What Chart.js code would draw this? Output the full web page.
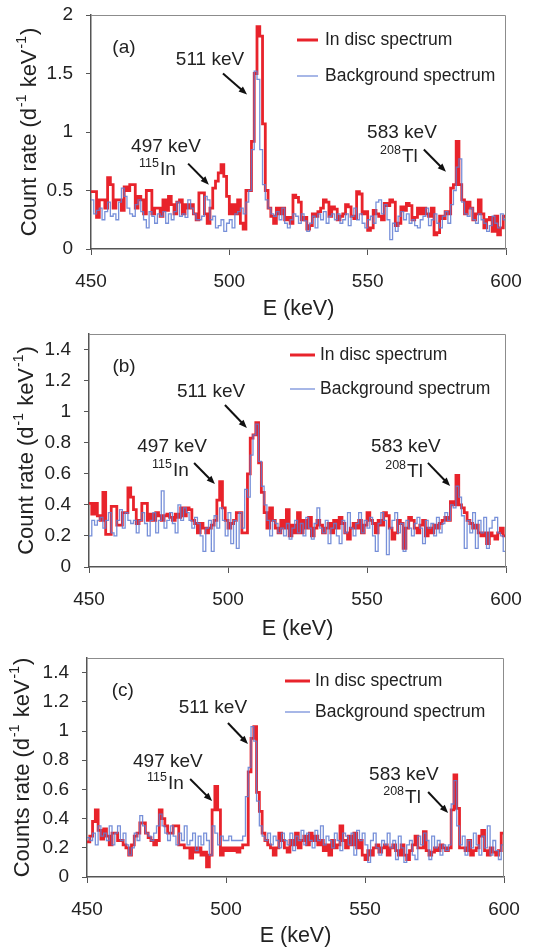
<!DOCTYPE html>
<html>
<head>
<meta charset="utf-8">
<script src="https://cdn.jsdelivr.net/npm/chart.js@4/dist/chart.umd.min.js"></script>
<style>
  body { margin: 0; background: #fff; width: 541px; height: 950px; overflow: hidden; }
  .panel { position: absolute; left: 0; width: 541px; }
</style>
</head>
<body>
<div class="panel" style="top:0;height:320px"><canvas id="chartA"></canvas></div>
<div class="panel" style="top:320px;height:320px"><canvas id="chartB"></canvas></div>
<div class="panel" style="top:640px;height:310px"><canvas id="chartC"></canvas></div>
<script>
// spectra: 1 keV bins starting at 450 keV, count rate (d^-1 keV^-1)
const binStart = 450;
const binWidth = 1;

const inDiscA = [
  0.49, 0.49, 0.27, 0.42, 0.42, 0.35, 0.61, 0.55, 0.35, 0.42,
  0.42, 0.33, 0.53, 0.50, 0.55, 0.55, 0.35, 0.45, 0.42, 0.30,
  0.50, 0.50, 0.30, 0.35, 0.35, 0.28, 0.42, 0.33, 0.45, 0.38,
  0.30, 0.40, 0.42, 0.30, 0.38, 0.35, 0.38, 0.30, 0.25, 0.48,
  0.48, 0.30, 0.22, 0.35, 0.52, 0.58, 0.65, 0.72, 0.62, 0.45,
  0.30, 0.38, 0.30, 0.42, 0.22, 0.17, 0.50, 0.50, 0.92, 1.50,
  1.90, 1.82, 1.07, 0.50, 0.35, 0.28, 0.22, 0.35, 0.30, 0.35,
  0.25, 0.27, 0.22, 0.46, 0.44, 0.40, 0.25, 0.27, 0.17, 0.20,
  0.30, 0.28, 0.32, 0.35, 0.42, 0.40, 0.28, 0.36, 0.34, 0.25,
  0.28, 0.30, 0.38, 0.36, 0.28, 0.26, 0.49, 0.47, 0.30, 0.32,
  0.16, 0.18, 0.33, 0.30, 0.28, 0.25, 0.39, 0.37, 0.42, 0.40,
  0.20, 0.22, 0.36, 0.33, 0.39, 0.37, 0.25, 0.27, 0.35, 0.30,
  0.35, 0.30, 0.28, 0.35, 0.12, 0.14, 0.28, 0.26, 0.32, 0.30,
  0.52, 0.55, 0.92, 0.55, 0.42, 0.30, 0.40, 0.35, 0.25, 0.30,
  0.42, 0.30, 0.18, 0.25, 0.27, 0.15, 0.28, 0.12, 0.18, 0.28
];
const backgroundA = [
  0.42, 0.30, 0.33, 0.35, 0.25, 0.32, 0.40, 0.28, 0.30, 0.25,
  0.40, 0.52, 0.45, 0.35, 0.30, 0.28, 0.38, 0.42, 0.32, 0.25,
  0.18, 0.32, 0.28, 0.22, 0.30, 0.28, 0.32, 0.22, 0.30, 0.25,
  0.32, 0.40, 0.28, 0.30, 0.27, 0.42, 0.35, 0.30, 0.25, 0.25,
  0.28, 0.45, 0.42, 0.25, 0.28, 0.18, 0.20, 0.25, 0.15, 0.22,
  0.25, 0.18, 0.30, 0.32, 0.35, 0.30, 0.40, 0.50, 0.85, 1.52,
  1.45, 0.85, 0.55, 0.42, 0.35, 0.30, 0.28, 0.32, 0.25, 0.35,
  0.22, 0.18, 0.25, 0.30, 0.28, 0.22, 0.30, 0.24, 0.15, 0.22,
  0.28, 0.18, 0.30, 0.25, 0.32, 0.22, 0.28, 0.30, 0.25, 0.30,
  0.22, 0.25, 0.30, 0.20, 0.28, 0.35, 0.25, 0.30, 0.22, 0.18,
  0.25, 0.28, 0.22, 0.40, 0.42, 0.30, 0.38, 0.25, 0.08, 0.22,
  0.15, 0.28, 0.32, 0.25, 0.30, 0.22, 0.25, 0.20, 0.18, 0.25,
  0.28, 0.35, 0.20, 0.25, 0.30, 0.22, 0.18, 0.28, 0.32, 0.22,
  0.38, 0.50, 0.70, 0.77, 0.40, 0.30, 0.28, 0.35, 0.25, 0.22,
  0.30, 0.25, 0.22, 0.15, 0.20, 0.28, 0.22, 0.18, 0.30, 0.25
];

const inDiscB = [
  0.41, 0.34, 0.41, 0.33, 0.30, 0.48, 0.21, 0.21, 0.39, 0.39,
  0.27, 0.27, 0.35, 0.35, 0.51, 0.45, 0.37, 0.28, 0.30, 0.41,
  0.41, 0.30, 0.34, 0.30, 0.35, 0.33, 0.30, 0.33, 0.34, 0.32,
  0.30, 0.34, 0.32, 0.38, 0.33, 0.38, 0.37, 0.30, 0.28, 0.22,
  0.28, 0.25, 0.22, 0.25, 0.27, 0.30, 0.43, 0.55, 0.38, 0.30,
  0.25, 0.28, 0.30, 0.35, 0.35, 0.22, 0.22, 0.60, 0.83, 0.85,
  0.93, 0.67, 0.48, 0.35, 0.25, 0.38, 0.30, 0.25, 0.22, 0.30,
  0.25, 0.37, 0.20, 0.27, 0.22, 0.35, 0.22, 0.30, 0.25, 0.32,
  0.20, 0.25, 0.30, 0.27, 0.22, 0.25, 0.28, 0.22, 0.30, 0.25,
  0.32, 0.28, 0.22, 0.18, 0.25, 0.28, 0.25, 0.30, 0.22, 0.27,
  0.35, 0.30, 0.28, 0.22, 0.30, 0.27, 0.35, 0.33, 0.25, 0.18,
  0.22, 0.30, 0.28, 0.12, 0.25, 0.32, 0.30, 0.25, 0.22, 0.27,
  0.30, 0.20, 0.25, 0.22, 0.27, 0.25, 0.28, 0.30, 0.32, 0.30,
  0.42, 0.40, 0.59, 0.40, 0.38, 0.35, 0.30, 0.28, 0.25, 0.27,
  0.22, 0.20, 0.22, 0.15, 0.22, 0.20, 0.18, 0.22, 0.25, 0.20
];
const backgroundB = [
  0.20, 0.30, 0.27, 0.30, 0.32, 0.25, 0.30, 0.35, 0.22, 0.20,
  0.30, 0.37, 0.25, 0.35, 0.30, 0.28, 0.30, 0.22, 0.30, 0.35,
  0.28, 0.20, 0.30, 0.35, 0.22, 0.30, 0.49, 0.25, 0.30, 0.35,
  0.28, 0.22, 0.40, 0.30, 0.38, 0.35, 0.30, 0.25, 0.32, 0.28,
  0.20, 0.10, 0.25, 0.30, 0.10, 0.33, 0.25, 0.38, 0.30, 0.20,
  0.35, 0.15, 0.30, 0.12, 0.35, 0.25, 0.50, 0.45, 0.72, 0.85,
  0.92, 0.68, 0.52, 0.40, 0.30, 0.20, 0.30, 0.28, 0.22, 0.25,
  0.20, 0.28, 0.18, 0.25, 0.30, 0.22, 0.28, 0.20, 0.32, 0.25,
  0.18, 0.28, 0.38, 0.25, 0.22, 0.30, 0.15, 0.25, 0.28, 0.20,
  0.15, 0.30, 0.22, 0.35, 0.25, 0.20, 0.28, 0.35, 0.22, 0.30,
  0.25, 0.32, 0.20, 0.10, 0.28, 0.35, 0.30, 0.08, 0.25, 0.30,
  0.35, 0.22, 0.28, 0.10, 0.30, 0.25, 0.20, 0.28, 0.32, 0.25,
  0.15, 0.30, 0.25, 0.28, 0.20, 0.32, 0.22, 0.28, 0.35, 0.30,
  0.40, 0.38, 0.52, 0.45, 0.33, 0.12, 0.30, 0.22, 0.35, 0.12,
  0.30, 0.22, 0.32, 0.12, 0.25, 0.30, 0.32, 0.22, 0.20, 0.10
];

const inDiscC = [
  0.24, 0.28, 0.38, 0.46, 0.32, 0.26, 0.33, 0.28, 0.22, 0.30,
  0.30, 0.25, 0.25, 0.22, 0.20, 0.15, 0.22, 0.28, 0.30, 0.37,
  0.37, 0.30, 0.27, 0.25, 0.22, 0.25, 0.46, 0.40, 0.35, 0.30,
  0.30, 0.35, 0.35, 0.22, 0.22, 0.20, 0.20, 0.13, 0.20, 0.17,
  0.20, 0.15, 0.17, 0.07, 0.15, 0.46, 0.62, 0.46, 0.15, 0.20,
  0.18, 0.20, 0.18, 0.20, 0.17, 0.20, 0.22, 0.22, 0.72, 0.95,
  1.03, 0.58, 0.45, 0.30, 0.25, 0.22, 0.20, 0.15, 0.20, 0.30,
  0.25, 0.20, 0.17, 0.25, 0.22, 0.30, 0.20, 0.25, 0.28, 0.22,
  0.30, 0.25, 0.28, 0.22, 0.25, 0.18, 0.22, 0.15, 0.25, 0.20,
  0.22, 0.35, 0.25, 0.20, 0.28, 0.22, 0.30, 0.20, 0.25, 0.15,
  0.12, 0.18, 0.15, 0.20, 0.22, 0.17, 0.20, 0.22, 0.15, 0.20,
  0.22, 0.18, 0.15, 0.22, 0.15, 0.12, 0.18, 0.22, 0.28, 0.20,
  0.20, 0.31, 0.18, 0.15, 0.17, 0.20, 0.18, 0.22, 0.20, 0.18,
  0.20, 0.46, 0.70, 0.47, 0.20, 0.20, 0.18, 0.25, 0.15, 0.18,
  0.20, 0.28, 0.32, 0.18, 0.15, 0.20, 0.17, 0.15, 0.18, 0.30
];
const backgroundC = [
  0.27, 0.25, 0.30, 0.22, 0.35, 0.28, 0.30, 0.25, 0.35, 0.22,
  0.30, 0.35, 0.25, 0.30, 0.22, 0.15, 0.20, 0.30, 0.25, 0.42,
  0.35, 0.30, 0.28, 0.25, 0.30, 0.35, 0.43, 0.35, 0.30, 0.25,
  0.35, 0.28, 0.22, 0.30, 0.25, 0.35, 0.22, 0.25, 0.30, 0.18,
  0.28, 0.22, 0.30, 0.25, 0.15, 0.35, 0.30, 0.22, 0.28, 0.25,
  0.25, 0.28, 0.25, 0.25, 0.25, 0.25, 0.28, 0.55, 0.75, 1.03,
  0.93, 0.52, 0.35, 0.28, 0.25, 0.30, 0.22, 0.28, 0.25, 0.20,
  0.30, 0.25, 0.22, 0.30, 0.18, 0.28, 0.25, 0.32, 0.22, 0.30,
  0.25, 0.20, 0.32, 0.25, 0.35, 0.22, 0.28, 0.25, 0.20, 0.30,
  0.25, 0.18, 0.30, 0.28, 0.22, 0.30, 0.15, 0.32, 0.25, 0.30,
  0.22, 0.10, 0.25, 0.30, 0.20, 0.15, 0.25, 0.22, 0.30, 0.20,
  0.25, 0.12, 0.28, 0.20, 0.10, 0.22, 0.25, 0.15, 0.12, 0.28,
  0.22, 0.30, 0.25, 0.12, 0.28, 0.20, 0.25, 0.15, 0.22, 0.18,
  0.22, 0.50, 0.66, 0.35, 0.22, 0.28, 0.15, 0.25, 0.20, 0.30,
  0.22, 0.15, 0.28, 0.20, 0.35, 0.15, 0.25, 0.18, 0.12, 0.22
];

const xTicks = [450, 500, 550, 600];
const yTicksA = [0, 0.5, 1, 1.5, 2];
const yTicksBC = [0, 0.2, 0.4, 0.6, 0.8, 1, 1.2, 1.4];
const seriesNames = ["In disc spectrum", "Background spectrum"];

const FONT = '"Liberation Sans", Arial, Helvetica, sans-serif';
const RED = "#e8232b";
const BLUE = "rgba(95, 125, 210, 0.85)";
const AXIS = "#555";

// histogram -> step points (last bin closed at its upper edge)
function toSteps(values) {
  const pts = values.map((v, i) => ({ x: binStart + i * binWidth, y: v }));
  pts.push({ x: binStart + values.length * binWidth, y: values[values.length - 1] });
  return pts;
}

// frame, legend, panel tag, peak labels and y title
const decorPlugin = {
  id: "decor",
  afterDraw(chart, args, opts) {
    const { ctx, chartArea: a, scales } = chart;
    const sx = (v) => scales.x.getPixelForValue(v);
    const sy = (v) => scales.y.getPixelForValue(v);
    ctx.save();

    // top/right frame
    ctx.strokeStyle = "#8c8c8c";
    ctx.lineWidth = 1;
    ctx.beginPath();
    ctx.moveTo(a.left, a.top + 0.5);
    ctx.lineTo(a.right - 0.5, a.top + 0.5);
    ctx.lineTo(a.right - 0.5, a.bottom);
    ctx.stroke();

    ctx.fillStyle = "#222";
    ctx.textBaseline = "middle";

    // panel tag
    ctx.font = "19px " + FONT;
    ctx.textAlign = "center";
    ctx.fillText(opts.tag, sx(opts.tagAt[0]), sy(opts.tagAt[1]));

    // legend
    const lg = opts.legend;
    const styles = [
      { color: RED, width: 3 },
      { color: BLUE, width: 1.3 },
    ];
    ctx.font = "17.5px " + FONT;
    ctx.textAlign = "left";
    seriesNames.forEach((name, i) => {
      const yy = a.top + lg.rows[i];
      ctx.strokeStyle = styles[i].color;
      ctx.lineWidth = styles[i].width;
      ctx.beginPath();
      ctx.moveTo(a.right + lg.line[0], yy);
      ctx.lineTo(a.right + lg.line[1], yy);
      ctx.stroke();
      ctx.fillStyle = "#222";
      ctx.fillText(name, a.right + lg.text, yy);
    });

    // peak labels and arrows
    opts.peaks.forEach((p) => {
      ctx.font = "19px " + FONT;
      ctx.textAlign = "center";
      ctx.fillStyle = "#222";
      ctx.fillText(p.text, sx(p.at[0]), sy(p.at[1]));
      if (p.sym) {
        const lx = sx(p.symAt[0]);
        const ly = sy(p.symAt[1]);
        ctx.textAlign = "left";
        ctx.fillText(p.sym, lx, ly);
        ctx.font = "12.5px " + FONT;
        ctx.textAlign = "right";
        ctx.fillText(p.sup, lx - 1, ly - 6);
      }
      const x0 = sx(p.arrow[0][0]), y0 = sy(p.arrow[0][1]);
      const x1 = sx(p.arrow[1][0]), y1 = sy(p.arrow[1][1]);
      const ang = Math.atan2(y1 - y0, x1 - x0);
      const head = 9;
      ctx.strokeStyle = "#111";
      ctx.fillStyle = "#111";
      ctx.lineWidth = 2;
      ctx.beginPath();
      ctx.moveTo(x0, y0);
      ctx.lineTo(x1 - Math.cos(ang) * head * 0.8, y1 - Math.sin(ang) * head * 0.8);
      ctx.stroke();
      ctx.beginPath();
      ctx.moveTo(x1, y1);
      ctx.lineTo(x1 - head * Math.cos(ang - 0.38), y1 - head * Math.sin(ang - 0.38));
      ctx.lineTo(x1 - head * Math.cos(ang + 0.38), y1 - head * Math.sin(ang + 0.38));
      ctx.closePath();
      ctx.fill();
    });

    // y title with superscripts
    const parts = [
      [opts.yTitle + " (d", false],
      ["-1", true],
      [" keV", false],
      ["-1", true],
      [")", false],
    ];
    const mainFont = "22px " + FONT;
    const supFont = "14px " + FONT;
    let total = 0;
    parts.forEach(([t, sup]) => {
      ctx.font = sup ? supFont : mainFont;
      total += ctx.measureText(t).width + (sup ? 2 : 0);
    });
    ctx.translate(opts.titleX, (a.top + a.bottom) / 2);
    ctx.rotate(-Math.PI / 2);
    ctx.fillStyle = "#222";
    ctx.textAlign = "left";
    let cx = -total / 2;
    parts.forEach(([t, sup]) => {
      ctx.font = sup ? supFont : mainFont;
      ctx.fillText(t, cx + (sup ? 1 : 0), sup ? -8 : 0);
      cx += ctx.measureText(t).width + (sup ? 2 : 0);
    });

    ctx.restore();
  },
};

function makeChart(id, cfg) {
  const fmt = (v) => String(Math.round(v * 10) / 10);
  return new Chart(document.getElementById(id), {
    type: "line",
    data: {
      datasets: [
        {
          label: seriesNames[0],
          data: toSteps(cfg.red),
          borderColor: RED,
          borderWidth: 2.8,
          stepped: true,
          pointRadius: 0,
          fill: false,
          order: 2,
        },
        {
          label: seriesNames[1],
          data: toSteps(cfg.blue),
          borderColor: BLUE,
          borderWidth: 1.3,
          stepped: true,
          pointRadius: 0,
          fill: false,
          order: 1,
        },
      ],
    },
    options: {
      responsive: true,
      maintainAspectRatio: false,
      animation: false,
      layout: { padding: cfg.padding },
      plugins: {
        legend: { display: false },
        tooltip: { enabled: false },
        decor: cfg.decor,
      },
      scales: {
        x: {
          type: "linear",
          min: 450,
          max: 600,
          afterBuildTicks: (s) => { s.ticks = xTicks.map((v) => ({ value: v })); },
          afterFit: (s) => { s.height = cfg.xAxisHeight; },
          grid: { drawOnChartArea: false, color: AXIS, tickLength: 6 },
          border: { color: AXIS, width: 1.5 },
          ticks: { color: "#222", font: { family: FONT, size: 19 }, padding: 15, maxRotation: 0 },
          title: {
            display: true,
            text: "E (keV)",
            color: "#222",
            font: { family: FONT, size: 21.5, lineHeight: 1 },
            padding: 0,
          },
        },
        y: {
          type: "linear",
          min: 0,
          max: cfg.yMax,
          afterBuildTicks: (s) => { s.ticks = cfg.yTicks.map((v) => ({ value: v })); },
          afterFit: (s) => {
            s.width = cfg.yAxisWidth;
            s.paddingTop = 0;
            s.paddingBottom = 0;
          },
          grid: { drawOnChartArea: false, color: AXIS, tickLength: 5 },
          border: { color: AXIS, width: 1.5 },
          ticks: { color: "#222", font: { family: FONT, size: 19 }, padding: 13, callback: fmt },
        },
      },
    },
    plugins: [decorPlugin],
  });
}

makeChart("chartA", {
  red: inDiscA,
  blue: backgroundA,
  yMax: 2,
  yTicks: yTicksA,
  padding: { top: 15, right: 35, left: 0, bottom: 0 },
  yAxisWidth: 91,
  xAxisHeight: 71,
  decor: {
    tag: "(a)",
    tagAt: [461.9, 1.72],
    yTitle: "Count rate",
    titleX: 30,
    legend: { line: [-209, -188], text: -181, rows: [25, 61] },
    peaks: [
      { text: "511 keV", at: [493.0, 1.62], arrow: [[497.7, 1.50], [506.4, 1.32]] },
      { text: "497 keV", at: [477.1, 0.87], sup: "115", sym: "In", symAt: [474.9, 0.675],
        arrow: [[485.1, 0.73], [492.6, 0.55]] },
      { text: "583 keV", at: [562.4, 0.99], sup: "208", sym: "Tl", symAt: [562.4, 0.79],
        arrow: [[570.3, 0.85], [578.3, 0.66]] },
    ],
  },
});

makeChart("chartB", {
  red: inDiscB,
  blue: backgroundB,
  yMax: 1.5,
  yTicks: yTicksBC,
  padding: { top: 14, right: 35, left: 0, bottom: 0 },
  yAxisWidth: 89,
  xAxisHeight: 73,
  decor: {
    tag: "(b)",
    tagAt: [462.6, 1.288],
    yTitle: "Count rate",
    titleX: 27,
    legend: { line: [-216, -191], text: -186, rows: [21, 55] },
    peaks: [
      { text: "511 keV", at: [493.9, 1.127], arrow: [[498.9, 1.043], [506.8, 0.895]] },
      { text: "497 keV", at: [479.9, 0.773], sup: "115", sym: "In", symAt: [480.2, 0.618],
        arrow: [[487.8, 0.670], [495.3, 0.534]] },
      { text: "583 keV", at: [564.0, 0.773], sup: "208", sym: "Tl", symAt: [564.4, 0.612],
        arrow: [[571.9, 0.670], [579.9, 0.522]] },
    ],
  },
});

makeChart("chartC", {
  red: inDiscC,
  blue: backgroundC,
  yMax: 1.5,
  yTicks: yTicksBC,
  padding: { top: 18, right: 37, left: 0, bottom: 3 },
  yAxisWidth: 87,
  xAxisHeight: 70,
  decor: {
    tag: "(c)",
    tagAt: [462.9, 1.274],
    yTitle: "Counts rate",
    titleX: 23,
    legend: { line: [-219, -194], text: -189, rows: [23, 54] },
    peaks: [
      { text: "511 keV", at: [495.3, 1.158], arrow: [[500.7, 1.055], [507.9, 0.911]] },
      { text: "497 keV", at: [479.1, 0.788], sup: "115", sym: "In", symAt: [479.1, 0.637],
        arrow: [[487.1, 0.671], [495.0, 0.521]] },
      { text: "583 keV", at: [564.0, 0.699], sup: "208", sym: "Tl", symAt: [564.4, 0.541],
        arrow: [[572.7, 0.582], [579.9, 0.438]] },
    ],
  },
});
</script>
</body>
</html>
